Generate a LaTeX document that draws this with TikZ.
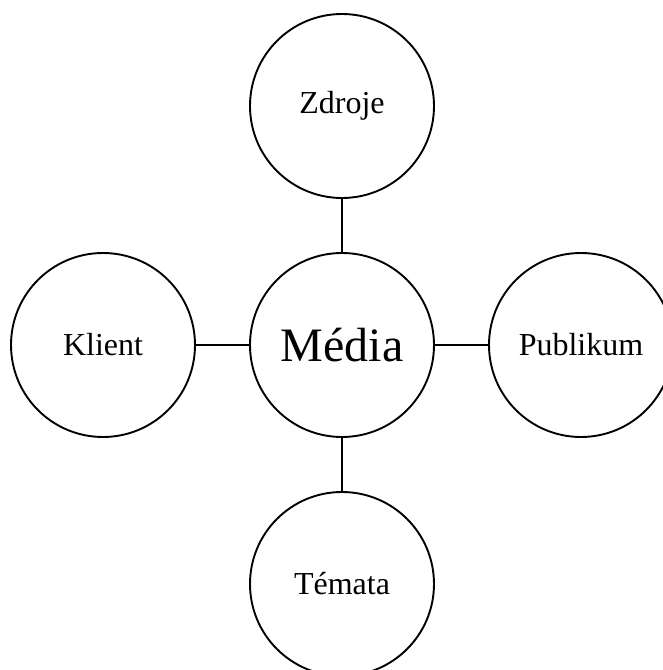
\documentclass[tikz,border=0pt]{standalone}
\usepackage{fontspec}
\setmainfont{Liberation Serif}
\usetikzlibrary{positioning}

\begin{document}
\begin{tikzpicture}[
  x=1pt, y=1pt,
  font=\fontsize{32}{38}\selectfont,
  bubble/.style={draw, circle, line width=1.9pt, minimum size=184pt,
                 inner sep=0pt, outer sep=0pt},
  link/.style={line width=1.9pt},
  node distance=55pt
]
\useasboundingbox (0,0) rectangle (663,670);
\node[bubble, font=\fontsize{48}{56}\selectfont] (media) at (342,325) {Média};
\node[bubble, above=of media] (zdroje)   {Zdroje};
\node[bubble, below=of media] (temata)   {Témata};
\node[bubble, left=of media]  (klient)   {Klient};
\node[bubble, right=of media] (publikum) {Publikum};
\draw[link] (media) -- (zdroje);
\draw[link] (media) -- (temata);
\draw[link] (media) -- (klient);
\draw[link] (media) -- (publikum);
\end{tikzpicture}
\end{document}
